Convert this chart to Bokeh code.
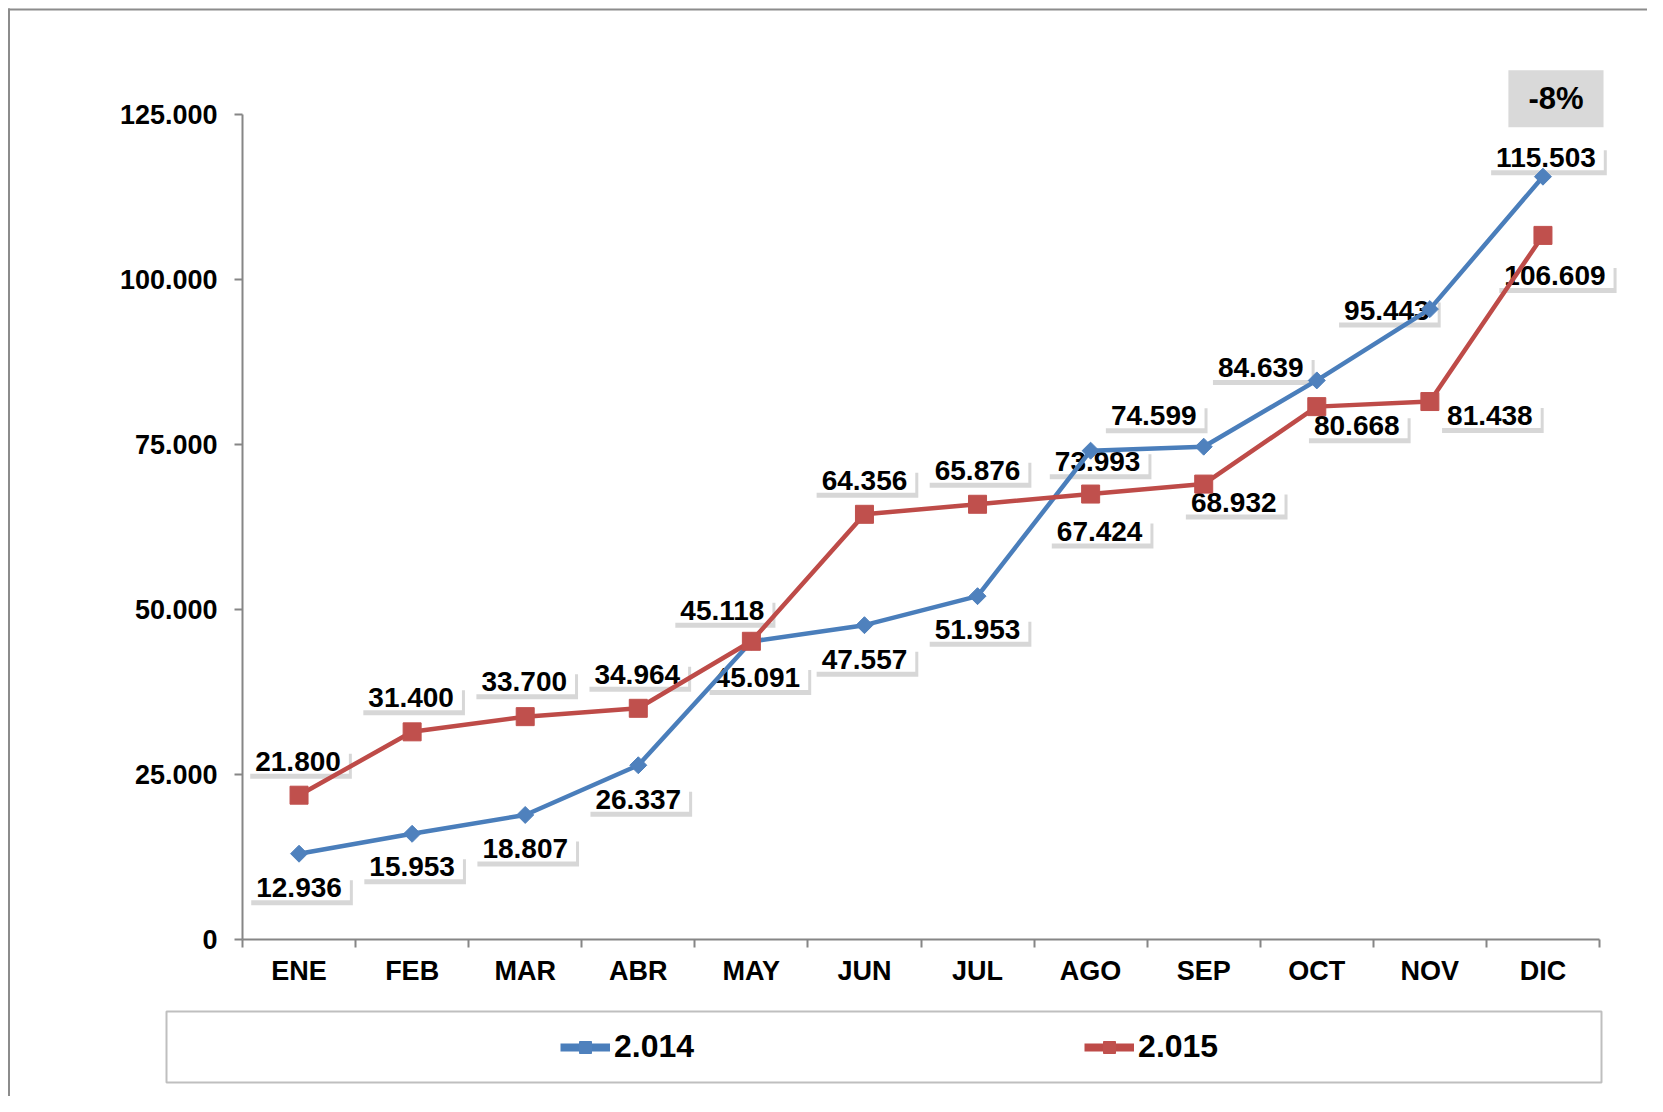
from math import pi
from bokeh.plotting import figure
from bokeh.models import (Range1d, FixedTicker, Legend, LegendItem, Label,
                          BoxAnnotation, ColumnDataSource)
from bokeh.core.properties import value
from bokeh.embed import file_html
from bokeh.resources import INLINE

# ---------------- data ----------------
months = ["ENE", "FEB", "MAR", "ABR", "MAY", "JUN", "JUL", "AGO", "SEP", "OCT", "NOV", "DIC"]
series_2014 = [12936, 15953, 18807, 26337, 45091, 47557, 51953, 73993, 74599, 84639, 95443, 115503]
series_2015 = [21800, 31400, 33700, 34964, 45118, 64356, 65876, 67424, 68932, 80668, 81438, 106609]
series_names = ["2.014", "2.015"]
y_ticks = [0, 25000, 50000, 75000, 100000, 125000]

# label placement (screen px, +x right, +y down) -- layout only
lab_dx_2014 = [0, 0, 0, 0, 6, 0, 0, 7, -50, -56, -43, 3]
lab_dy_2014 = [34, 33, 34, 34, 36, 34, 33, 11, -31, -13, 1, -19]
lab_dx_2015 = [-1, -1, -1, -1, -29, 0, 0, 9, 30, 40, 60, 12]
lab_dy_2015 = [-34, -34, -35, -34, -31, -34, -34, 37, 18, 19, 14, 40]

FONT = "Liberation Sans"
BLUE_LINE, BLUE_MARK = "#4A7EBB", "#4F81BD"
RED_LINE, RED_MARK = "#BE4B48", "#C0504D"
AXIS = "#868686"


def fmt(v):
    return f"{v:,}".replace(",", ".")


xs = list(range(1, len(months) + 1))
src = ColumnDataSource(dict(
    x=xs,
    y14=series_2014, y15=series_2015,
    t14=[fmt(v) for v in series_2014], t15=[fmt(v) for v in series_2015],
    dx14=lab_dx_2014, dy14=lab_dy_2014, dx15=lab_dx_2015, dy15=lab_dy_2015,
    sdx14=[d + 3 for d in lab_dx_2014], sdy14=[d + 5 for d in lab_dy_2014],
    sdx15=[d + 3 for d in lab_dx_2015], sdy15=[d + 5 for d in lab_dy_2015],
))

# ---------------- geometry (canvas px) ----------------
W, H = 1647, 1096
AX_LEFT, AX_RIGHT = 242.0, 1599.0      # x axis extent (px)
AX_TOP, AX_BOTTOM = 113.5, 938.6       # y axis extent (px)
slot = (AX_RIGHT - AX_LEFT) / len(months)
ypx = (AX_BOTTOM - AX_TOP) / y_ticks[-1]


def px2x(px):
    return 0.5 + (px - AX_LEFT) / slot


def px2y(py):
    return (AX_BOTTOM - py) / ypx


p = figure(width=W, height=H, output_backend="svg", toolbar_location=None,
           x_range=Range1d(px2x(0), px2x(W)), y_range=Range1d(px2y(H), px2y(0)),
           min_border_left=0, min_border_right=0, min_border_top=0, min_border_bottom=0)
p.outline_line_color = None
p.grid.visible = False
p.background_fill_color = "white"
p.border_fill_color = "white"

# x axis (at y = 0)
xa = p.xaxis[0]
xa.fixed_location = 0
xa.bounds = (0.5, len(months) + 0.5)
xa.ticker = FixedTicker(ticks=xs, minor_ticks=[x - 0.5 for x in xs] + [xs[-1] + 0.5])
xa.major_label_overrides = {x: m for x, m in zip(xs, months)}
xa.major_tick_line_color = None
xa.major_tick_out = 0
xa.major_tick_in = 0
xa.minor_tick_out = 8
xa.minor_tick_in = 0
xa.minor_tick_line_color = AXIS
xa.minor_tick_line_width = 2
xa.axis_line_color = AXIS
xa.axis_line_width = 2
xa.major_label_text_font = FONT
xa.major_label_text_font_style = "bold"
xa.major_label_text_font_size = "27px"
xa.major_label_text_color = "black"
xa.major_label_standoff = 9

# y axis (at the left edge of the first month)
ya = p.yaxis[0]
ya.fixed_location = 0.5
ya.bounds = (y_ticks[0], y_ticks[-1])
ya.ticker = FixedTicker(ticks=y_ticks, minor_ticks=[])
ya.major_label_overrides = {v: fmt(v) for v in y_ticks}
ya.major_tick_out = 8
ya.major_tick_in = 0
ya.major_tick_line_color = AXIS
ya.major_tick_line_width = 2
ya.axis_line_color = AXIS
ya.axis_line_width = 2
ya.major_label_text_font = FONT
ya.major_label_text_font_style = "bold"
ya.major_label_text_font_size = "27px"
ya.major_label_text_color = "black"
ya.major_label_standoff = 17

# outer chart border (left and top edges) and legend frame
p.add_layout(BoxAnnotation(left=px2x(7.5), right=px2x(9.5), top=px2y(8), bottom=px2y(H),
                           fill_color="#8C8C8C", fill_alpha=1, line_color=None, level="underlay"))
p.add_layout(BoxAnnotation(left=px2x(7.5), right=px2x(W), top=px2y(8), bottom=px2y(10),
                           fill_color="#8C8C8C", fill_alpha=1, line_color=None, level="underlay"))
p.add_layout(BoxAnnotation(left=px2x(166), right=px2x(1601), top=px2y(1011), bottom=px2y(1082),
                           fill_alpha=0, line_color="#BFBFBF", line_alpha=1, line_width=2,
                           level="underlay"))

# data labels (shadow + white box), drawn under the lines
common = dict(source=src, text_font=value(FONT), text_font_style="bold", text_font_size="28px",
              text_align="center", text_baseline="middle", padding=(8, 3))
for yk, tk, sdx, sdy in (("y14", "t14", "sdx14", "sdy14"), ("y15", "t15", "sdx15", "sdy15")):
    p.text(x="x", y=yk, text=tk, x_offset=sdx, y_offset=sdy, text_alpha=0,
           background_fill_color="#8C8C8C", background_fill_alpha=0.35, **common)
for yk, tk, dx, dy in (("y14", "t14", "dx14", "dy14"), ("y15", "t15", "dx15", "dy15")):
    p.text(x="x", y=yk, text=tk, x_offset=dx, y_offset=dy, text_color="black",
           background_fill_color="white", **common)

# series
p.line("x", "y14", source=src, line_color=BLUE_LINE, line_width=4.5)
p.scatter("x", "y14", source=src, marker="square", angle=pi / 4, size=12,
          fill_color=BLUE_MARK, line_color=BLUE_MARK)
p.line("x", "y15", source=src, line_color=RED_LINE, line_width=4.5)
p.scatter("x", "y15", source=src, marker="square", size=18,
          fill_color=RED_MARK, line_color=RED_MARK)

# legend keys (same series, drawn only in the legend with thicker strokes)
k14l = p.line("x", "y14", source=src, line_color=BLUE_LINE, line_width=8, visible=False)
k14m = p.scatter("x", "y14", source=src, marker="square", angle=pi / 4, size=11,
                 fill_color=BLUE_MARK, line_color=BLUE_MARK, visible=False)
k15l = p.line("x", "y15", source=src, line_color=RED_LINE, line_width=8, visible=False)
k15m = p.scatter("x", "y15", source=src, marker="square", size=19,
                 fill_color=RED_MARK, line_color=RED_MARK, visible=False)

# change badge (Dec 2015 vs Dec 2014)
pct = round((series_2015[-1] - series_2014[-1]) / series_2014[-1] * 100)
badge = Label(x=xs[-1], y=series_2014[-1], text=f"{pct}%", x_offset=13, y_offset=78,
              text_align="center", text_baseline="middle", text_font=FONT,
              text_font_style="bold", text_font_size="31px", text_color="black",
              background_fill_color="#D9D9D9", padding=(20, 11))
p.add_layout(badge)

# legend
legend = Legend(items=[LegendItem(label=series_names[0], renderers=[k14l, k14m]),
                       LegendItem(label=series_names[1], renderers=[k15l, k15m])],
                orientation="horizontal", location=(560, 31),
                glyph_width=50, glyph_height=30, label_standoff=4, spacing=390,
                padding=0, margin=0, border_line_color=None, background_fill_alpha=0,
                label_text_font=FONT, label_text_font_style="bold",
                label_text_font_size="32px", label_text_color="black")
p.add_layout(legend, "center")

open("out.html", "w").write(file_html(p, INLINE))
